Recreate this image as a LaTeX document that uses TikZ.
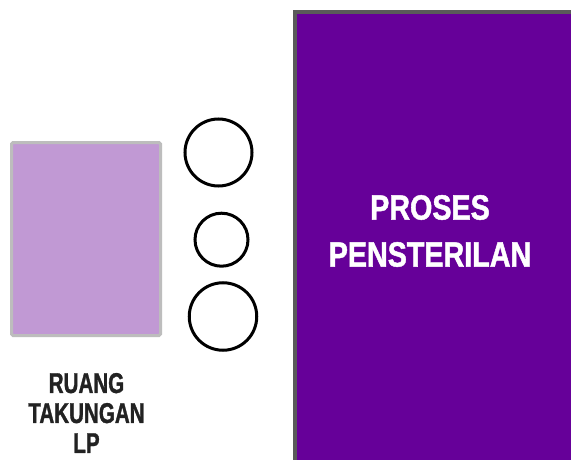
\documentclass[tikz,border=0pt]{standalone}
\usepackage{fontspec}
\newfontfamily\topfont[FakeStretch=0.82, FakeBold=1.3]{Liberation Sans}
\newfontfamily\botfont[FakeStretch=0.72, FakeBold=1.1]{Liberation Sans}
\definecolor{deeppurple}{HTML}{660099}
\definecolor{lightpurple}{HTML}{C199D4}
\definecolor{darkborder}{HTML}{5A5A5A}
\definecolor{lightborder}{HTML}{BDBDBD}
\definecolor{labeltext}{HTML}{222222}
\tikzset{
  ring/.style={draw=black, line width=3pt, circle, inner sep=0pt, fill=white},
  bigbox/.style={draw=darkborder, fill=deeppurple, line width=4pt},
  roombox/.style={draw=lightborder, fill=lightpurple, line width=3pt, rounded corners=1.5pt},
}
\begin{document}
\begin{tikzpicture}[x=1pt,y=-1pt]
\useasboundingbox (0,0) rectangle (571,460);
\fill[white] (0,0) rectangle (571,460);
\draw[bigbox] (295,12) rectangle (600,490);
\draw[roombox] (11.5,142.5) rectangle (160.5,335.5);
\node[ring, minimum size=67pt] (c1) at (218.5,152.5) {};
\node[ring, minimum size=53pt] (c2) at (221.5,239.7) {};
\node[ring, minimum size=67.5pt] (c3) at (223,316.5) {};
\node[text=white, align=center, font={\topfont\bfseries\fontsize{35}{47}\selectfont}] (proc) at (430,231) {PROSES\\PENSTERILAN};
\node[text=labeltext, align=center, font={\botfont\bfseries\fontsize{28.6}{30}\selectfont}] (room) at (86.5,413) {RUANG\\TAKUNGAN\\LP};
\end{tikzpicture}
\end{document}
